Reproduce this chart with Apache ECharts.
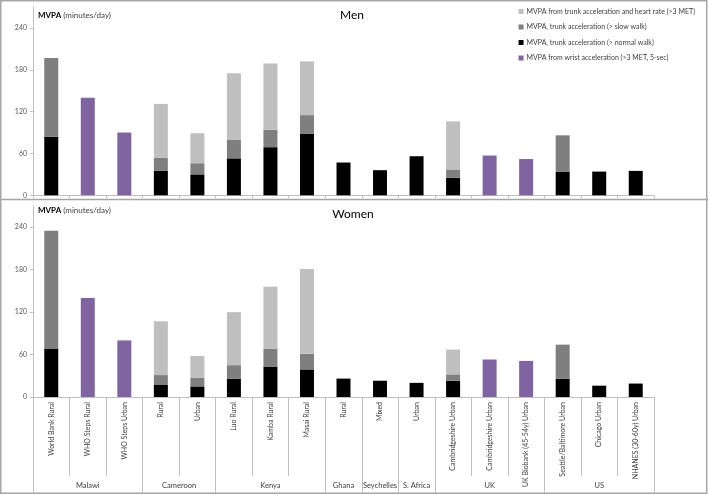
<!DOCTYPE html>
<html>
<head>
<meta charset="utf-8">
<script src="https://cdn.jsdelivr.net/npm/echarts@6/dist/echarts.min.js"></script>
<style>html,body{margin:0;padding:0;background:#fff}#c{width:708px;height:495px}</style>
</head>
<body>
<div id="c"></div>
<script>
// Categories
const categories = ['World Bank Rural','WHO Steps Rural','WHO Steps Urban','Rural','Urban','Luo Rural','Kamba Rural','Masai Rural','Rural','Mixed','Urban','Cambridgeshire Urban','Cambridgeshire Urban','UK Biobank (45-54y) Urban','Seattle/Baltimore Urban','Chicago Urban','NHANES (30-60y) Urban'];
const groupNames = ['Malawi','Cameroon','Kenya','Ghana','Seychelles','S. Africa','UK','US'];
const groupSizes = [3,2,3,1,1,1,3,3];
const yTicks = [0,60,120,180,240];
const seriesNames = ['MVPA from trunk acceleration and heart rate (>3 MET)','MVPA, trunk acceleration (> slow walk)','MVPA, trunk acceleration (> normal walk)','MVPA from wrist acceleration (>3 MET, 5-sec)'];

// Men (stack segment heights, minutes/day)
const menNormal = [84,null,null,35,30,53,69,88,47,36,56,25,null,null,34,34,35];
const menSlow   = [113,null,null,19,16,27,25,27,null,null,null,12,null,null,52,null,null];
const menHR     = [null,null,null,77,43,95,95,77,null,null,null,69,null,null,null,null,null];
const menWrist  = [null,140,90,null,null,null,null,null,null,null,null,null,57,52,null,null,null];

// Women
const womenNormal = [68,null,null,17,15,26,43,39,26,23,20,23,null,null,26,16,19];
const womenSlow   = [167,null,null,14,12,19,25,22,null,null,null,9,null,null,48,null,null];
const womenHR     = [null,null,null,76,31,75,88,120,null,null,null,35,null,null,null,null,null];
const womenWrist  = [null,140,80,null,null,null,null,null,null,null,null,null,53,51,null,null,null];

const colors = ['#bfbfbf','#7f7f7f','#000000','#8064a2'];
const FONT = 'Lato, "Open Sans", sans-serif';

const bounds = [0]; groupSizes.forEach(s => bounds.push(bounds[bounds.length-1]+s));
const centers = groupSizes.map((s,i) => bounds[i] + s/2);

function bars(grid, data) {
  const order = [[2,data[0]],[1,data[1]],[0,data[2]],[3,data[3]]];
  return order.map(([ci,d]) => ({
    name: seriesNames[ci], type: 'bar', stack: 's'+grid, xAxisIndex: grid, yAxisIndex: grid,
    barWidth: 14, data: d, itemStyle: {color: colors[ci]}, emphasis: {disabled: true}
  }));
}

const lineColor = '#bfbfbf';
function yAxis(grid) {
  return {type:'value', gridIndex:grid, min:0, max:270, interval:30,
    axisLine:{show:true, lineStyle:{color:lineColor}},
    axisTick:{show:true, length:3, customValues: yTicks, lineStyle:{color:lineColor}},
    axisLabel:{customValues: yTicks, fontSize:7, color:'#595959', fontFamily:FONT, margin:6},
    splitLine:{show:false}};
}

const chart = echarts.init(document.getElementById('c'));
chart.setOption({
  animation:false,
  textStyle:{fontFamily:FONT},
  legend:{orient:'vertical', right:8, top:3, itemWidth:5, itemHeight:5, itemGap:8.5,
    icon:'rect', data: seriesNames, textStyle:{fontSize:7, color:'#404040', fontFamily:FONT, padding:[0,0,0,-2]}},
  grid:[{left:33, top:7, width:621, height:188.3},{left:33, top:206, width:621, height:191}],
  xAxis:[
    {type:'category', gridIndex:0, data:categories,
      axisLine:{lineStyle:{color:lineColor}}, axisTick:{show:true, length:3, interval:0, lineStyle:{color:lineColor}},
      axisLabel:{show:false}},
    {type:'category', gridIndex:1, data:categories,
      axisLine:{lineStyle:{color:lineColor}}, axisTick:{show:true, length:79, interval:0, lineStyle:{color:lineColor}},
      axisLabel:{interval:0, rotate:90, fontSize:7, color:'#404040', fontFamily:FONT, margin:5}},
    {type:'value', gridIndex:1, min:0, max:categories.length, position:'bottom',
      axisLine:{show:false},
      axisTick:{show:true, length:96, customValues: bounds, lineStyle:{color:lineColor}},
      axisLabel:{customValues: centers, fontSize:7.5, color:'#404040', fontFamily:FONT, margin:85,
        formatter: v => { const i = centers.findIndex(c => Math.abs(c-v)<1e-6); return i>=0 ? groupNames[i] : ''; }},
      splitLine:{show:false}}
  ],
  yAxis:[yAxis(0), yAxis(1)],
  series:[
    ...bars(0,[menNormal,menSlow,menHR,menWrist]),
    ...bars(1,[womenNormal,womenSlow,womenHR,womenWrist])
  ],
  graphic:[
    {type:'rect', shape:{x:0.75,y:0.75,width:706,height:492.5}, style:{fill:null, stroke:'#a6a6a6', lineWidth:1.5}, silent:true},
    {type:'line', shape:{x1:0,y1:199.5,x2:708,y2:199.5}, style:{stroke:'#a6a6a6', lineWidth:1.5}, silent:true},
    {type:'text', left:38, top:11, style:{text:'{b|MVPA} (minutes/day)', fontSize:8, fill:'#404040', fontFamily:FONT,
      rich:{b:{fontWeight:'bold', fontSize:8, fill:'#000', fontFamily:FONT}}}},
    {type:'text', left:38, top:206, style:{text:'{b|MVPA} (minutes/day)', fontSize:8, fill:'#404040', fontFamily:FONT,
      rich:{b:{fontWeight:'bold', fontSize:8, fill:'#000', fontFamily:FONT}}}},
    {type:'text', x:352, y:15, style:{text:'Men', fontSize:12, fill:'#000', fontFamily:FONT, align:'center', verticalAlign:'middle'}},
    {type:'text', x:353, y:214, style:{text:'Women', fontSize:12, fill:'#000', fontFamily:FONT, align:'center', verticalAlign:'middle'}}
  ]
});
</script>
</body>
</html>
